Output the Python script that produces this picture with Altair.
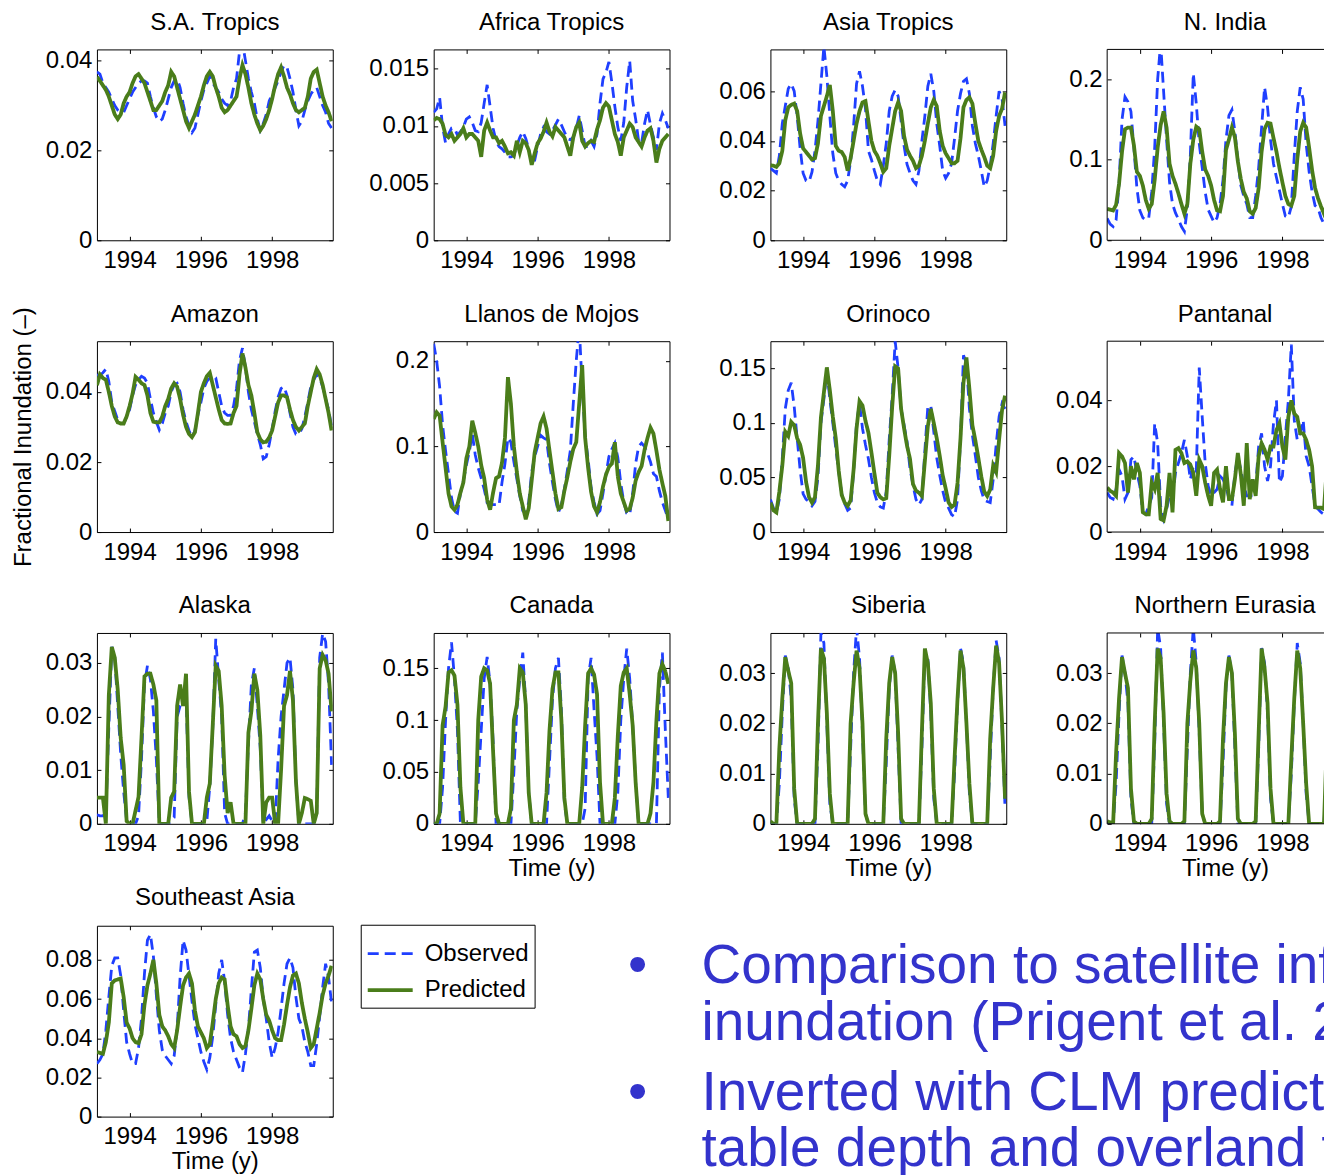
import altair as alt
import pandas as pd

FONT = "Liberation Sans"
BLUE = "#1f3fff"
GREEN = "#4a7d1a"
TEXT_BLUE = "#3333cc"

# monthly time axis (80 months starting Jan 1993)
MONTHS = [1993 + (i + 1) / 12 for i in range(80)]
X0, X1 = 1993.083, 1999.70

# values in units of 1e-3 (fractional inundation)
SA_OBS = [37.5, 37, 35, 34, 33, 31.5, 30, 29, 28.5, 28.5,
          30, 31.5, 33, 34, 35, 35.5, 35.5, 35, 32, 29.5,
          27.5, 26.5, 27, 29, 31.5, 34, 35.5, 36, 34, 30.5,
          27.5, 25.5, 24, 25, 28, 31, 33.5, 35, 36.5, 35,
          34, 33, 31.5, 30.5, 30, 31, 34, 36, 42, 44,
          40, 36, 33, 30.5, 27, 24.5, 26, 28, 31, 32.5,
          34, 35.5, 37.5, 39, 38.5, 36, 33, 29, 25.5, 26.5,
          29, 31, 32.5, 33.5, 34, 32, 30, 28.5, 26, 25]
SA_PRED = [36.4, 35.5, 34.5, 33.5, 32, 30, 28, 27, 28, 30.5,
           32, 33, 35, 36.5, 37, 36, 35, 33, 31, 29,
           29, 30, 31, 33, 34.5, 37.5, 36.5, 34, 31.5, 29,
           26.5, 25, 26.5, 28, 30, 32, 34.5, 36.5, 37.5, 36.5,
           34, 32, 29.5, 28.5, 29, 30, 31, 32, 36, 39,
           37, 34, 30.5, 28, 26, 24.5, 25.5, 27, 29, 31.5,
           34.5, 37, 38.5, 36.5, 34, 32.5, 30.5, 29, 28.5, 29,
           29.5, 32, 36, 37.5, 38, 35, 32, 30, 28.5, 26.5]

AF_OBS = [11.2, 11.5, 12.5, 9.9, 8.5, 9.3, 9.8, 9.8, 9.2, 9.5,
          9.9, 10.6, 10.8, 10.3, 9.6, 9.5, 10.3, 12.0, 13.6, 11.7,
          9.8, 8.7, 8.2, 8.0, 7.7, 7.3, 7.3, 7.4, 8.3, 9.0,
          9.5, 8.9, 8.0, 6.7, 7.0, 8.2, 9.3, 9.9, 9.5, 9.3,
          9.6, 10.1, 10.6, 10.1, 9.5, 8.9, 8.8, 9.0, 9.8, 10.9,
          9.6, 8.2, 8.2, 8.7, 8.2, 9.3, 12.0, 14.1, 14.7, 15.6,
          13.8, 11.7, 9.9, 8.7, 10.3, 13.4, 15.7, 12.2, 10.6, 8.7,
          8.5, 10.2, 11.4, 10.1, 9.0, 7.9, 10.2, 11.1, 10.5, 9.8]
AF_PRED = [10.5, 10.7, 10.6, 10.2, 9.2, 9.0, 9.3, 8.7, 9.0, 9.3,
           9.8, 9.0, 9.3, 9.3, 9.0, 8.7, 7.3, 9.6, 10.3, 9.6,
           9.0, 9.0, 8.5, 8.7, 8.2, 7.6, 7.7, 7.4, 8.7, 7.7,
           8.7, 8.5, 7.9, 6.6, 7.6, 8.5, 8.9, 9.5, 10.3, 9.5,
           9.1, 9.9, 9.6, 9.3, 9.0, 8.2, 7.4, 9.0, 9.9, 10.3,
           8.7, 8.2, 8.5, 8.7, 8.6, 9.7, 10.5, 11.6, 12.0, 11.7,
           10.5, 9.3, 8.6, 7.4, 9.0, 9.6, 10.2, 9.9, 9.0, 8.6,
           8.2, 9.0, 9.6, 9.8, 8.7, 6.8, 8.0, 8.7, 9.0, 9.3]

AS_OBS = [29, 28, 27, 34, 47, 54, 61, 63, 60, 50,
          37, 27, 24, 23.5, 27.5, 36, 48, 63, 78, 66,
          50, 35, 27, 24, 22.5, 21.5, 24, 32, 46, 63,
          68, 62, 53, 36, 32.5, 28, 24, 22.5, 30, 39,
          52, 58, 60.5, 58, 48, 38, 30.5, 27, 24, 22.5,
          28, 40, 50, 62, 67, 60, 47, 38, 28, 25,
          27, 31, 41, 52, 59, 64, 65, 59, 46, 39,
          34, 28, 21.5, 24, 30, 39, 50, 60, 57, 46]
AS_PRED = [30.2, 30, 29.5, 31, 36, 48.3, 53.5, 54.5, 55, 52,
           43, 37, 35.5, 34, 32.5, 33, 39, 50, 54, 58,
           62.5, 52, 38, 36, 35.5, 33.5, 28, 33, 40, 47,
           52, 55.5, 56, 48, 40, 36, 34, 31, 27.5, 29,
           38, 45, 52, 55.5, 52, 42, 36.5, 34, 32, 29,
           30, 34, 40, 47, 53.5, 56.5, 54, 44, 38, 35,
           33, 31, 31, 32, 41, 53.5, 56.5, 57.5, 55, 47,
           40, 36.5, 33.5, 30, 29, 34, 44, 50, 53, 59.5]

NI_OBS = [27, 20, 17, 25, 70, 150, 178, 172, 160, 115,
          65, 37, 28, 25, 28, 60, 115, 200, 245, 185,
          125, 72, 45, 34, 26, 17, 11, 40, 105, 207,
          170, 120, 90, 60, 38, 30, 22, 28, 45, 75,
          125, 155, 162, 135, 100, 68, 55, 45, 28, 28,
          55, 90, 140, 190, 165, 125, 95, 78, 62, 45,
          30, 28, 42, 105, 160, 190, 175, 120, 85, 60,
          43, 40, 28, 20, 13, 32, 80, 140, 180, 160]
NI_PRED = [39, 38, 37, 44, 70, 110, 138, 140, 140, 118,
           85, 80, 68, 50, 39, 45, 75, 115, 143, 160,
           140, 95, 80, 70, 58, 45, 33, 45, 95, 125,
           141, 138, 110, 88, 80, 68, 50, 37, 36, 55,
           112, 125, 140, 128, 98, 76, 60, 52, 36, 33,
           40, 65, 110, 138, 146, 145, 127, 110, 90, 72,
           55, 45, 43, 55, 100, 135, 146, 140, 115, 87,
           65, 52, 42, 33, 45, 85, 115, 135, 140, 130]

AM_OBS = [44.8, 44.8, 45.5, 46.5, 43, 37, 34.5, 32, 31, 31,
          33, 35, 39, 42, 43.5, 44.5, 44, 42.5, 38, 34,
          31.5, 29.2, 31, 34, 36, 40, 42, 42.5, 40, 35,
          31.5, 29, 27, 29, 33.5, 37, 41, 43, 44, 44.5,
          44, 40, 36, 34, 33.3, 33.3, 36, 41, 49, 52.5,
          47, 40, 35, 31.5, 28, 25, 20.9, 21.5, 25, 29.5,
          34.5, 38.5, 41, 41.5, 39, 34, 30, 28, 28, 29.5,
          33, 37, 41.5, 43.5, 45, 44, 41.5, 38, 35, 30]
AM_PRED = [41.9, 45, 44, 43.5, 40, 36, 33, 31.3, 31, 31,
           33, 36, 39.5, 44.3, 43.5, 42.5, 42, 39, 34, 31.5,
           31.3, 31.3, 33, 36, 38, 41, 42.5, 41.5, 38, 33.5,
           30, 28, 27.1, 28.5, 34, 40, 42.5, 44.5, 45.5, 42,
           38.5, 35, 32, 31, 30.9, 31, 34, 36, 45, 51,
           47, 42, 39, 34, 28.5, 26.5, 25.6, 25.8, 27, 29,
           33, 37, 39, 39, 38.5, 35, 32, 30, 29, 30,
           31, 36, 40, 44, 46.5, 45, 42, 38, 34, 29]

LL_OBS = [220, 200, 170, 125, 95, 68, 40, 24, 22, 45,
          60, 78, 94, 115, 90, 75, 63, 50, 34, 32,
          32, 32, 31, 58, 80, 110, 105, 82, 62, 42,
          25, 22, 35, 70, 88, 100, 113, 110, 108, 80,
          58, 38, 23, 32, 50, 72, 95, 150, 200, 240,
          170, 112, 85, 52, 35, 21, 25, 45, 67, 88,
          97, 104, 87, 57, 35, 22, 20, 45, 80, 100,
          104, 100, 92, 82, 68, 65, 48, 35, 25, 15]
LL_PRED = [132, 140, 136, 105, 75, 45, 30, 26, 32, 46,
           58, 86, 100, 130, 116, 100, 78, 63, 38, 26,
           46, 63, 65, 81, 110, 181, 150, 100, 70, 45,
           30, 15, 28, 60, 93, 110, 127, 135, 121, 95,
           70, 45, 27, 29, 48, 64, 82, 97, 105, 150,
           195, 110, 75, 47, 30, 23, 35, 53, 67, 76,
           80, 105, 65, 45, 35, 25, 27, 40, 60, 70,
           77, 96, 110, 122, 115, 95, 73, 57, 42, 13]

OR_OBS = [30, 22, 18, 30, 68, 113, 130, 137, 115, 86,
          57, 35, 30, 28, 24, 28, 50, 100, 122, 148,
          122, 100, 77, 55, 35, 26, 20, 22, 55, 100,
          118, 95, 80, 67, 50, 36, 27, 23, 22, 37,
          85, 125, 175, 150, 113, 98, 83, 58, 43, 30,
          25, 30, 75, 115, 116, 92, 68, 52, 38, 27,
          22, 16, 14, 30, 85, 162, 155, 113, 89, 70,
          50, 38, 29, 28, 27, 48, 80, 106, 118, 113]
OR_PRED = [27, 20, 18, 37, 61, 92, 88, 101, 98, 86,
           80, 68, 46, 32, 27, 32, 61, 105, 128, 151,
           130, 106, 86, 56, 34, 27, 24, 29, 57, 95,
           120, 116, 102, 91, 73, 54, 36, 32, 30, 31,
           70, 115, 152, 150, 113, 95, 79, 67, 44, 38,
           36, 33, 65, 97, 113, 100, 86, 70, 52, 40,
           27, 23, 25, 45, 86, 137, 160, 131, 98, 84,
           68, 51, 37, 33, 39, 61, 55, 85, 112, 125]

PA_OBS = [12, 10.5, 10, 13, 19, 17, 10, 12, 22, 23,
          18, 14, 6, 5.4, 8, 10.5, 33, 27, 8, 4,
          7, 11, 10, 18, 21, 24, 28, 23, 16, 20,
          18.5, 50, 35, 21, 14, 11, 12, 13, 17, 16,
          14, 10, 8, 18, 23, 19, 14, 11, 11, 11,
          14, 26, 30, 20, 15.5, 20, 33, 40, 15, 17,
          29, 40, 57, 34, 28, 30, 34, 23, 20, 14,
          8, 7, 6, 5.4, 17, 18, 15, 16, 18, 17]
PA_PRED = [13.5, 12.5, 12, 11, 24, 23, 21, 12, 20, 16,
           21, 18, 6, 5.4, 5.4, 15, 13, 18, 4, 3.5,
           8, 18, 6, 25, 25.5, 24, 21, 21.5, 20.5, 18,
           11, 22, 20, 15, 11, 8, 18, 19, 13, 9,
           20, 10, 10, 16, 24, 17.5, 8, 27, 10, 16,
           11, 23, 27, 25, 22, 26, 26, 31, 33, 26,
           22, 35, 40, 36, 35, 30, 30, 28, 25, 20,
           7.5, 7.4, 7.4, 7, 20, 18, 17, 18, 19, 18]

AK_OBS = [1.7, 1.5, 1.5, 2, 18, 33, 31, 22, 13, 6,
          0.5, 0, 0, 0, 1.5, 12, 26, 29.5, 27, 21,
          12, 0, 0, 0, 0, 0.5, 1.2, 20, 22, 23,
          24, 5, 0, 0, 0, 0, 0, 0.5, 7, 18,
          34.5, 27, 20, 2, 0, 0, 0, 0, 0, 0,
          2, 15, 26, 29, 22, 14, 0, 0.8, 1.5, 0.5,
          0, 12, 20, 25, 30, 31, 25, 8, 0, 0,
          0, 0, 0, 0, 2, 31, 35.5, 34, 26, 11]
AK_PRED = [4.9, 4.9, 4.9, 0, 24, 33, 31, 25, 16, 11,
           0.5, 0, 0, 2.5, 5, 16, 27.5, 28, 28, 26,
           23, 0, 0, 0, 0, 4.9, 6, 22, 26, 22,
           28, 6, 0, 0, 0, 0, 0, 4.9, 7.5, 18.5,
           29.5, 28.5, 22, 9, 2, 4, 0, 0, 0, 0,
           0, 17, 21, 28, 25, 16.5, 0, 4, 4.9, 4.9,
           0, 0, 10, 22, 24, 28.5, 23, 8, 0, 2,
           4.8, 4.6, 4.3, 0, 2, 29, 31.5, 30.5, 28, 21]

CA_OBS = [0, 0, 0, 35, 100, 150, 175, 140, 90, 0,
          0, 0, 0, 0, 0, 40, 90, 140, 161, 135,
          80, 0, 0, 0, 0, 0, 0, 50, 110, 140,
          165, 115, 30, 0, 0, 0, 0, 0, 0, 60,
          120, 150, 160, 110, 20, 0, 0, 0, 0, 0,
          0, 15, 140, 160, 110, 65, 0, 0, 0, 0,
          0, 0, 30, 100, 140, 169, 140, 95, 40, 0,
          0, 0, 0, 0, 0, 0, 130, 165, 90, 25]
CA_PRED = [0, 0, 10, 95, 113, 146, 148, 143, 115, 35,
           0, 0, 0, 0, 0, 100, 142, 150, 148, 135,
           70, 10, 0, 0, 0, 0, 15, 100, 115, 150,
           146, 115, 30, 0, 0, 0, 0, 0, 30, 90,
           130, 146, 146, 100, 25, 0, 0, 0, 0, 0,
           35, 95, 145, 150, 144, 125, 40, 0, 0, 0,
           0, 25, 85, 133, 146, 150, 125, 95, 40, 0,
           0, 0, 0, 10, 40, 100, 145, 154, 147, 135]

SI_OBS = [0, 0, 0, 8, 22, 33.5, 31, 25, 5, 0,
          0, 0, 0, 0, 0, 0, 15, 38, 36, 20,
          4, 0, 0, 0, 0, 0, 0, 15, 30, 39,
          33, 18, 2, 0, 0, 0, 0, 0, 0, 12,
          27, 33.5, 30, 15, 0, 0, 0, 0, 0, 0,
          0, 15, 34, 33, 22, 5, 0, 0, 0, 0,
          0, 0, 10, 24, 35, 32, 20, 6, 0, 0,
          0, 0, 0, 0, 13, 27, 36.5, 33, 19, 3]
SI_PRED = [0.5, 0, 0, 15, 25, 33.2, 30.5, 28, 7, 0,
           0, 0, 0, 0, 0, 1, 20, 34.9, 33, 22,
           6, 0, 0, 0, 0, 0, 0, 20, 28, 34.5,
           31, 20, 2, 0, 0, 0, 0, 0, 0, 17,
           28, 33.2, 30, 18, 1, 0, 0, 0, 0, 0,
           0, 18.5, 34.9, 32, 24, 7, 0, 0, 0, 0,
           0, 0, 13, 25, 34.5, 31, 20, 8, 0, 0,
           0, 0, 0, 0, 17, 27, 35.5, 32, 20, 5]

NE_OBS = [0, 0, 0, 8, 22, 33.5, 30, 24, 5, 0,
          0, 0, 0, 0, 0, 0, 16, 39, 35, 20,
          4, 0, 0, 0, 0, 0, 0, 15, 30, 39,
          32, 18, 2, 0, 0, 0, 0, 0, 0, 12,
          27, 33.5, 30, 15, 0, 0, 0, 0, 0, 0,
          0, 15, 35, 32, 22, 5, 0, 0, 0, 0,
          0, 0, 10, 24, 36, 32, 20, 6, 0, 0,
          0, 0, 0, 0, 13, 27, 36, 33, 19, 3]
NE_PRED = [0.5, 0.3, 0, 14, 25, 33.2, 30, 27, 7, 0.5,
           0, 0, 0, 0, 0, 1, 20, 34.9, 33, 22,
           6, 0.5, 0, 0, 0, 0, 0.5, 20, 28.5, 34.5,
           31, 20, 2, 0, 0, 0, 0, 0, 0.5, 17,
           28, 33.2, 30, 18, 1, 0, 0, 0, 0, 0,
           0.5, 18, 34.9, 31, 24, 7, 0, 0, 0, 0,
           0, 0, 13, 25, 34.5, 31, 20, 8, 0, 0,
           0, 0, 0, 0, 17, 27, 34, 32, 20, 5]

SE_OBS = [27, 29, 32, 44, 61, 77, 81, 81, 72, 54,
          38, 32, 27, 27, 35, 50, 73, 90, 93, 82,
          62, 44, 34, 31, 29, 27, 31, 45, 71, 90,
          85, 72, 59, 47, 40, 33, 28, 24, 30, 41,
          57, 73, 80, 69, 52, 40, 33, 29, 25, 22.5,
          32, 45, 65, 84, 85, 76, 60, 50, 38, 30,
          35, 43, 55, 68, 78, 81, 76, 61, 50, 46,
          38, 33, 26, 26, 37, 51, 66, 78, 71, 58]
SE_PRED = [33, 32.5, 32, 38, 48, 68, 69.5, 70, 70.5, 61,
           48, 45, 40, 38, 37.5, 42, 57, 67, 73, 80,
           68, 52, 46, 44, 41, 37, 35, 44, 56, 67,
           71, 73, 68, 54, 46, 43, 40, 35, 37, 48,
           60, 68, 71, 70, 57, 46, 42, 41, 37, 35,
           36, 44, 55, 67, 73, 70, 60, 52, 49, 44,
           40, 39, 39, 47, 57, 66, 72, 73, 68, 58,
           50, 43, 35, 37, 45, 53, 62, 68, 72, 77]

PANELS = [
    ("S.A. Tropics", SA_OBS, SA_PRED, 0.0425, [0, 0.02, 0.04]),
    ("Africa Tropics", AF_OBS, AF_PRED, 0.0167, [0, 0.005, 0.01, 0.015]),
    ("Asia Tropics", AS_OBS, AS_PRED, 0.0768, [0, 0.02, 0.04, 0.06]),
    ("N. India", NI_OBS, NI_PRED, 0.237, [0, 0.1, 0.2]),
    ("Amazon", AM_OBS, AM_PRED, 0.0545, [0, 0.02, 0.04]),
    ("Llanos de Mojos", LL_OBS, LL_PRED, 0.223, [0, 0.1, 0.2]),
    ("Orinoco", OR_OBS, OR_PRED, 0.175, [0, 0.05, 0.1, 0.15]),
    ("Pantanal", PA_OBS, PA_PRED, 0.058, [0, 0.02, 0.04]),
    ("Alaska", AK_OBS, AK_PRED, 0.0356, [0, 0.01, 0.02, 0.03]),
    ("Canada", CA_OBS, CA_PRED, 0.184, [0, 0.05, 0.1, 0.15]),
    ("Siberia", SI_OBS, SI_PRED, 0.038, [0, 0.01, 0.02, 0.03]),
    ("Northern Eurasia", NE_OBS, NE_PRED, 0.038, [0, 0.01, 0.02, 0.03]),
    ("Southeast Asia", SE_OBS, SE_PRED, 0.0974, [0, 0.02, 0.04, 0.06, 0.08]),
]
X_TICKS = [1994, 1996, 1998]
SERIES = ["Observed", "Predicted"]
BULLET_LINES = [
    "Comparison to satellite inferred",
    "inundation (Prigent et al. 2007)",
    "Inverted with CLM predicted water",
    "table depth and overland flow",
]

W, H = 236, 191
SPACING = 101
W_LAST = 217   # last column is cut by the picture edge
W_TEXT = 891   # text block is cut by the picture edge too
YTITLE = "Fractional Inundation (\u2013)"


def make_panel(idx, width, xtitle=False, ytitle=False, legend=False, cut=False, title_dy=24):
    name, obs, pred, ymax, yticks = PANELS[idx]
    df = pd.DataFrame({
        "t": MONTHS + MONTHS,
        "v": [o / 1000 for o in obs] + [p / 1000 for p in pred],
        "series": ["Observed"] * len(obs) + ["Predicted"] * len(pred),
    })
    xmax = X0 + (X1 - X0) * width / W
    xs = alt.Scale(domain=[X0, xmax], nice=False, zero=False)
    ys = alt.Scale(domain=[0, ymax], nice=False, zero=False)

    xaxis = dict(values=X_TICKS, format="d", orient="bottom", offset=-4, tickSize=4,
                 labelPadding=8, labelFlush=False, labelOverlap=False, domain=False, grid=False)
    if xtitle:
        xaxis.update(title="Time (y)", titlePadding=1, titleX=W / 2)
    else:
        xaxis.update(title=None)
    yaxis = dict(values=yticks, format="~g", orient="left", offset=-4, tickSize=4,
                 labelPadding=5, labelOverlap=False, domain=False, grid=False)
    if ytitle:
        yaxis.update(title=YTITLE, titlePadding=10)
    else:
        yaxis.update(title=None)

    if legend:
        leg = alt.Legend(title=None, orient="none", legendX=264, legendY=-1, direction="vertical",
                         symbolType="stroke", symbolSize=2025, symbolStrokeWidth=3,
                         labelFont=FONT, labelFontSize=24, labelColor="black", labelOffset=10,
                         rowPadding=0, padding=5, strokeColor="black", fillColor="white")
    else:
        leg = None

    lines = alt.Chart(df).mark_line(clip=True).encode(
        x=alt.X("t:Q", scale=xs, axis=alt.Axis(**xaxis)),
        y=alt.Y("v:Q", scale=ys, axis=alt.Axis(**yaxis)),
        color=alt.Color("series:N", scale=alt.Scale(domain=SERIES, range=[BLUE, GREEN]), legend=leg),
        strokeDash=alt.StrokeDash("series:N", scale=alt.Scale(domain=SERIES, range=[[11, 6], [1, 0]]), legend=leg),
        strokeWidth=alt.StrokeWidth("series:N", scale=alt.Scale(domain=SERIES, range=[2.8, 3.8]), legend=None),
    )
    top_axis = alt.Axis(values=X_TICKS, orient="top", offset=-4, tickSize=4, labels=False,
                        domain=False, grid=False, title=None)
    if not cut:
        right_axis = alt.Axis(values=yticks, orient="right", offset=-4, tickSize=4, labels=False,
                              domain=False, grid=False, title=None)
    else:
        right_axis = None
    frame = alt.Chart(df).mark_line(opacity=0, clip=True).encode(
        x=alt.X("t:Q", scale=xs, axis=top_axis),
        y=alt.Y("v:Q", scale=ys, axis=right_axis),
        detail="series:N",
    )
    layers = [lines, frame]
    if cut:
        one = pd.DataFrame({"k": [0]})
        layers += [
            alt.Chart(one).mark_rule(color="black", strokeWidth=1).encode(
                x=alt.value(0), x2=alt.value(width), y=alt.value(0)),
            alt.Chart(one).mark_rule(color="black", strokeWidth=1).encode(
                x=alt.value(0), x2=alt.value(width), y=alt.value(H)),
            alt.Chart(one).mark_rule(color="black", strokeWidth=1).encode(
                x=alt.value(0), y=alt.value(0), y2=alt.value(H)),
        ]
    props = dict(
        width=width, height=H,
        title=alt.TitleParams(text=name, offset=19, dy=title_dy, baseline="alphabetic", anchor="middle",
                              frame="group", dx=(W - width) / 2),
    )
    if cut:
        props["view"] = alt.ViewBackground(strokeOpacity=0)
    return alt.layer(*layers).resolve_axis(x="independent", y="independent").properties(**props)


def text_panel():
    layers = []
    baselines = [57, 114, 184, 240]
    for i, s in enumerate(BULLET_LINES):
        layers.append(
            alt.Chart(pd.DataFrame({"s": [s]})).mark_text(
                align="left", baseline="alphabetic", font=FONT, fontSize=55, color=TEXT_BLUE,
                clip=True).encode(text="s:N", x=alt.value(268), y=alt.value(baselines[i]))
        )
    for b in (0, 2):
        layers.append(
            alt.Chart(pd.DataFrame({"s": ["\u2022"]})).mark_text(
                align="center", baseline="alphabetic", font=FONT, fontSize=55, color=TEXT_BLUE,
                clip=True).encode(text="s:N", x=alt.value(204), y=alt.value(baselines[b]))
        )
    return alt.layer(*layers).properties(width=W_TEXT, height=250,
                                         view=alt.ViewBackground(strokeOpacity=0, strokeWidth=0))


cells = []
for i in range(12):
    col = i % 4
    cells.append(make_panel(i, W_LAST if col == 3 else W,
                            ytitle=(i == 4), xtitle=(i in (9, 10, 11)), cut=(col == 3),
                            title_dy=58 if i == 4 else 24))

RES_SCALE = dict(x="independent", y="independent", color="independent",
                 strokeDash="independent", strokeWidth="independent")
RES_LEG = dict(color="independent", strokeDash="independent")

grid = alt.concat(*cells, columns=4, spacing=SPACING, bounds="flush").resolve_scale(
    **RES_SCALE).resolve_legend(**RES_LEG)
bottom = alt.hconcat(make_panel(12, W, xtitle=True, legend=True), text_panel(),
                     spacing=SPACING, bounds="flush").resolve_scale(**RES_SCALE).resolve_legend(**RES_LEG)

chart = alt.vconcat(grid, bottom, spacing=4).resolve_scale(**RES_SCALE).resolve_legend(**RES_LEG).properties(
    padding={"left": 2, "top": 1, "right": 0, "bottom": 0}
).configure(font=FONT).configure_view(stroke="black", strokeWidth=1).configure_axis(
    labelFont=FONT, labelFontSize=24, labelColor="black", titleFont=FONT, titleFontSize=24,
    titleFontWeight="normal", titleColor="black", tickColor="black", tickWidth=1
).configure_title(font=FONT, fontSize=24, fontWeight="normal", color="black")

chart.save("out.html", embed_options={"renderer": "svg", "actions": False})
